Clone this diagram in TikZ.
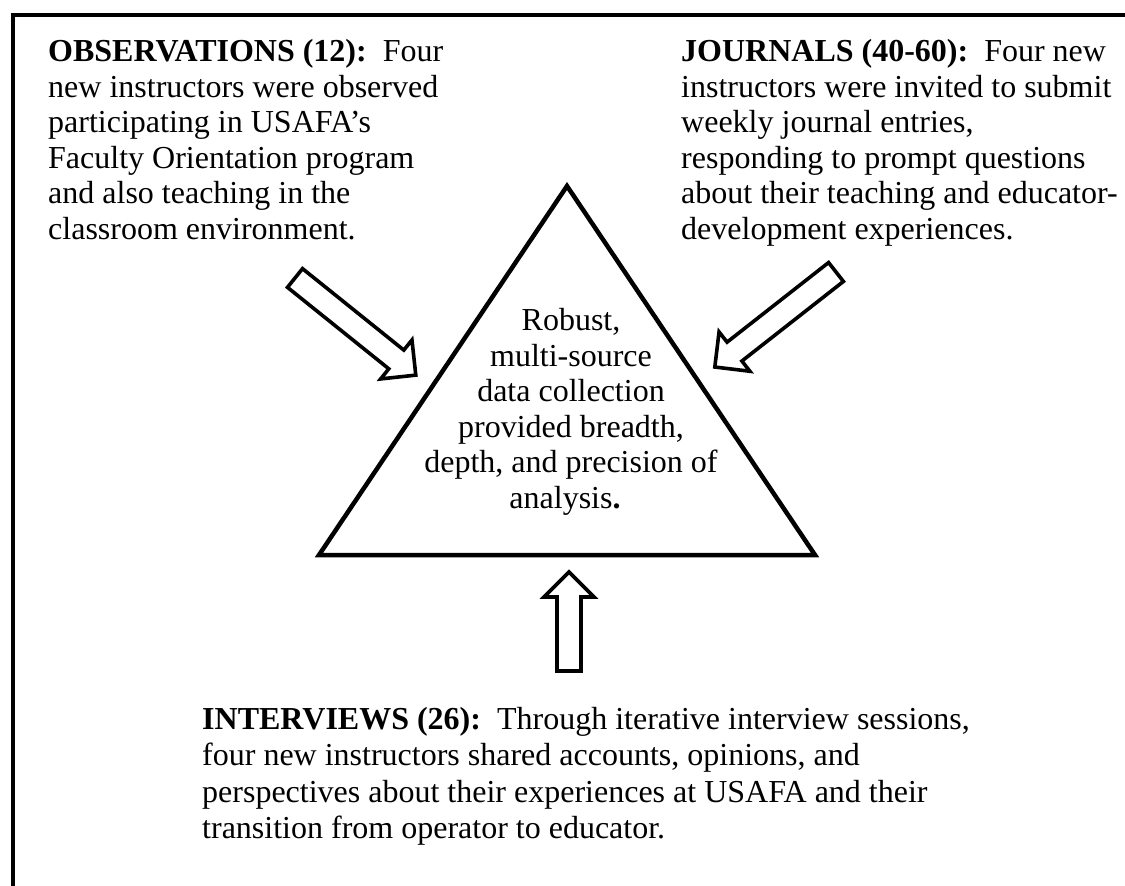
\documentclass[tikz,border=0pt]{standalone}
\usepackage{fontspec}
\setmainfont{Liberation Serif}
\tikzset{
  frameline/.style={line width=4.5pt},
  triline/.style={line width=4.5pt, line join=miter},
  arrowline/.style={line width=3.6pt, line join=miter},
  txt/.style={inner sep=0pt, font=\fontsize{32}{35.6}\selectfont},
  txtwide/.style={inner sep=0pt, font=\fontsize{32}{36.4}\selectfont},
  pics/hollowarrow/.style={code={
    \draw[arrowline] (0,-12) -- (#1-25,-12) -- (#1-25,-25) -- (#1,0)
      -- (#1-25,25) -- (#1-25,12) -- (0,12) -- cycle;
  }}
}
\begin{document}
\begin{tikzpicture}[x=1pt,y=1pt]
\useasboundingbox (0,0) rectangle (1125,-886);
\fill[white] (0,0) rectangle (1125,-886);
% frame (top and left edges only)
\draw[frameline] (13,-886) -- (13,-15) -- (1125,-15);
% triangle
\coordinate (apex) at (567,-186);
\coordinate (bl) at (319,-555);
\coordinate (br) at (815,-555);
\draw[triline] (apex) -- (bl) -- (br) -- cycle;
% arrows
\pic[shift={(295,-278)}, rotate=-38.8] {hollowarrow=155};
\pic[shift={(836,-272)}, rotate=-141.9] {hollowarrow=154};
\pic[shift={(569,-671)}, rotate=90] {hollowarrow=99};
% texts
\node[txt, anchor=north west, align=left] (obs) at (48,-39)
  {\textbf{OBSERVATIONS (12):}\ \ Four\\new instructors were observed\\participating in USAFA’s\\Faculty Orientation program\\and also teaching in the\\classroom environment.};
\node[txt, anchor=north west, align=left] (jou) at (681,-39)
  {\textbf{JOURNALS (40-60):}\ \ Four new\\instructors were invited to submit\\weekly journal entries,\\responding to prompt questions\\about their teaching and educator-\\development experiences.};
\node[txtwide, anchor=north west, align=left] (int) at (202,-707)
  {\textbf{INTERVIEWS (26):}\ \ Through iterative interview sessions,\\four new instructors shared accounts, opinions, and\\perspectives about their experiences at USAFA and their\\transition from operator to educator.};
\node[txt, anchor=north, align=center] (mid) at (571,-308)
  {Robust,\\multi-source\\data collection\\provided breadth,\\depth, and precision of\hspace*{20pt}\\analysis\textbf{.}\hspace*{12pt}};
\end{tikzpicture}
\end{document}
